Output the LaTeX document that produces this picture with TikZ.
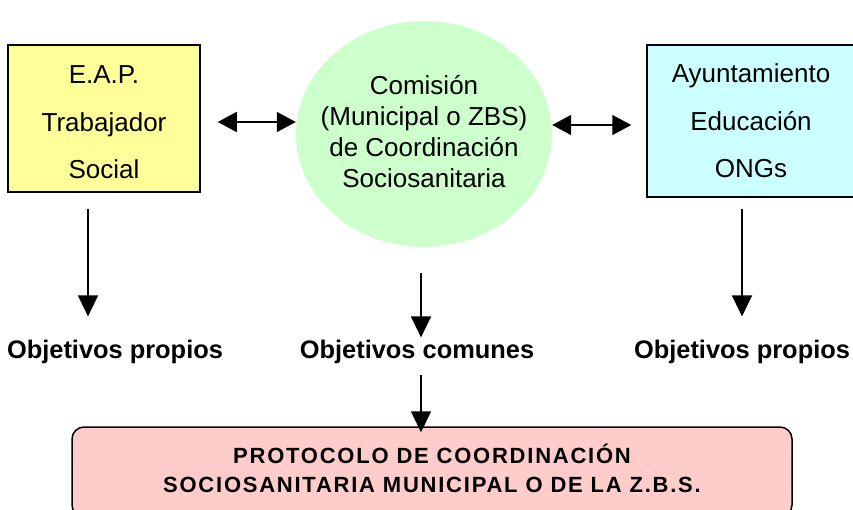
\documentclass[tikz,border=0pt]{standalone}
\usepackage{fontspec}
\setmainfont{Liberation Sans}
\usetikzlibrary{arrows.meta,shapes.geometric,calc}
\definecolor{yel}{HTML}{FFFF99}
\definecolor{grn}{HTML}{CCFFCC}
\definecolor{cyn}{HTML}{CCFFFF}
\definecolor{pnk}{HTML}{FFCCCC}
\begin{document}
\begin{tikzpicture}[x=1pt,y=-1pt,
  box/.style={draw=black,line width=1.5pt,inner sep=0pt,align=center,font=\fontsize{26}{47.5}\selectfont},
  dbl/.style={line width=1.5pt,{Triangle[length=19pt,width=20pt]}-{Triangle[length=19pt,width=20pt]}},
  down/.style={line width=1.5pt,-{Triangle[length=21pt,width=20pt]}},
  lab/.style={font=\bfseries\fontsize{25.4}{30}\selectfont,inner sep=0pt,anchor=base}]
\clip (0,0) rectangle (853,509);
\useasboundingbox (0,0) rectangle (853,509);
\fill[white] (0,0) rectangle (853,509);

\node[box,fill=yel,minimum width=192pt,minimum height=147pt] (eap) at (104,118.5) {\rule{0pt}{26pt}E.A.P.\\Trabajador\\Social\rule[-1pt]{0pt}{1pt}};
\node[ellipse,fill=grn,minimum width=256pt,minimum height=226pt,inner xsep=-14pt,inner ysep=0pt,align=center,font=\fontsize{26}{31}\selectfont] (com) at (424,134) {Comisión\\(Municipal o ZBS)\\de Coordinación\\Sociosanitaria\rule[-6pt]{0pt}{6pt}};
\node[box,fill=cyn,minimum width=208pt,minimum height=152pt] (ayu) at (751,121) {Ayuntamiento\\Educación\\ONGs};

\node[lab] (op1) at (115,358) {Objetivos propios};
\node[lab] (op2) at (417,358) {Objetivos comunes};
\node[lab] (op3) at (742,358) {Objetivos propios};

\node[draw=black,line width=1.5pt,rounded corners=12pt,fill=pnk,minimum width=720pt,minimum height=90pt,inner sep=0pt,align=center,font=\bfseries\fontsize{22}{29}\selectfont\addfontfeatures{LetterSpace=8}] (prot) at (432,472) {PROTOCOLO DE COORDINACIÓN\\SOCIOSANITARIA MUNICIPAL O DE LA Z.B.S.\rule[-8pt]{0pt}{8pt}};

\draw[dbl] ([xshift=17pt,yshift=-3.5pt]eap.east) -- ([yshift=-3.5pt]eap.east -| com.west);
\draw[dbl] ([yshift=-4pt]ayu.west -| com.east) -- ([xshift=-15pt,yshift=-4pt]ayu.west);

\draw[down,shorten <=16pt,shorten >=23pt] ([xshift=-16pt]eap.south) -- ([xshift=-16pt]eap.south |- op1.north);
\draw[down,shorten <=11pt,shorten >=23pt] ([xshift=-9pt]ayu.south) -- ([xshift=-9pt]ayu.south |- op3.north);
\draw[down,shorten <=26pt,shorten >=2pt] ([xshift=4pt]op2.north |- com.south) -- ([xshift=4pt]op2.north);
\draw[down,shorten <=12pt,shorten >=-6pt] ([xshift=4pt]op2.south) -- ([xshift=4pt]op2.south |- prot.north);
\end{tikzpicture}
\end{document}
